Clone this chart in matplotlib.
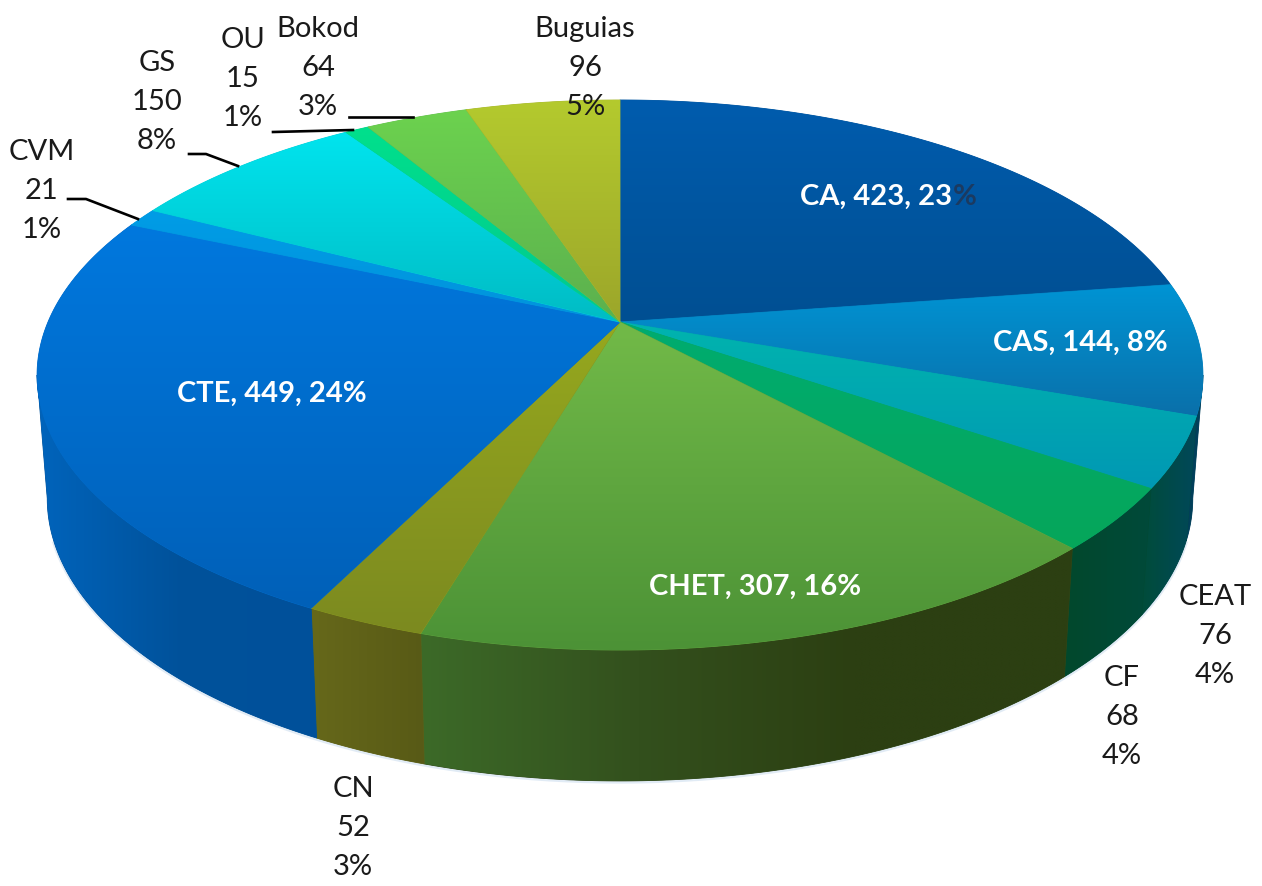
import numpy as np
import matplotlib
matplotlib.use('Agg')
import matplotlib.pyplot as plt
from matplotlib.colors import LinearSegmentedColormap
from matplotlib.patches import Polygon

plt.rcParams['font.family'] = ['Lato', 'DejaVu Sans']

names = ['CA', 'CAS', 'CEAT', 'CF', 'CHET', 'CN', 'CTE', 'CVM', 'GS', 'OU', 'Bokod', 'Buguias']
values = [423, 144, 76, 68, 307, 52, 449, 21, 150, 15, 64, 96]

# top face colours, upper edge to lower edge of the slice
top_colors = [('#005cae', '#004f92'), ('#0094d4', '#0a70aa'), ('#00b4ae', '#0098b4'),
              ('#00ac70', '#06a65a'), ('#72ba48', '#4c9236'), ('#96a81e', '#7c8a20'),
              ('#0078de', '#0060b8'), ('#009ce6', '#0094dc'), ('#00e4ee', '#00bcc4'),
              ('#00e08c', '#00c890'), ('#6cd24e', '#5cb04e'), ('#b4ca2e', '#9ca62a')]
# wall colours, left to right
wall_colors = [('#003f70', '#003f70'), ('#013f58', '#01405e'), ('#004c3a', '#01485a'),
               ('#02482c', '#004a3a'), ('#3c6a28', '#33501d', '#2c3f12', '#2c3f12'), ('#66681a', '#585a16'),
               ('#0064bc', '#00529b', '#00509a'), ('#00509a', '#00509a'), ('#00509a', '#00509a'),
               ('#00509a', '#00509a'), ('#00509a', '#00509a'), ('#00509a', '#00509a')]

inside_labels = {'CA': (800, 197), 'CAS': (1080, 343), 'CHET': (755, 587), 'CTE': (272, 394)}
outside_labels = {'CEAT': (1215, 636), 'CF': (1122, 717), 'CN': (353, 828), 'CVM': (42, 191),
                  'GS': (157, 102), 'OU': (243, 79), 'Bokod': (318, 68), 'Buguias': (585, 68)}
leaders = [[(68, 199), (86, 199), (138, 219)],
           [(189, 154), (206, 154), (238, 166)],
           [(273, 132), (353, 130)],
           [(349, 117), (413, 117)]]

CX = 620
TOP_Y = 322
BOTTOM_Y = 444
K = 0.1927


def project(t, cy, a, b):
    # t is clockwise from twelve o'clock, perspective squeeze with K
    u, v = np.sin(t), np.cos(t)
    den = 1 + K * v
    return CX + b * u / den, cy - a * v / den


def top_edge(t):
    return project(t, TOP_Y, 264.8, 572)


def bottom_edge(t):
    return project(t, BOTTOM_Y, 272, 562)


def gradient_fill(ax, xs, ys, colors, vertical=True, zorder=2):
    # solid patch under the image keeps the edge smooth
    mid = LinearSegmentedColormap.from_list('m', colors)(0.5)
    pts = np.column_stack([xs, ys])
    ax.add_patch(Polygon(pts, closed=True, facecolor=mid, edgecolor=mid, lw=0.6, zorder=zorder))
    cmap = LinearSegmentedColormap.from_list('g', colors)
    ramp = np.linspace(0, 1, 256)
    grad = ramp[:, None] if vertical else ramp[None, :]
    im = ax.imshow(grad, cmap=cmap, vmin=0, vmax=1, aspect='auto', origin='upper', zorder=zorder + 0.1,
                   extent=[xs.min(), xs.max(), ys.max(), ys.min()], interpolation='bilinear')
    clip = Polygon(pts, closed=True, transform=ax.transData)
    im.set_clip_path(clip)


fig = plt.figure(figsize=(12.62, 8.86), dpi=100)
ax = fig.add_axes([0, 0, 1, 1])

total = sum(values)
edges = 2 * np.pi * np.cumsum([0] + values) / total
wall_start = np.arccos(-K)
wall_end = 2 * np.pi - wall_start

# soft halo under the wall
halo_t = np.linspace(wall_start + 0.15, wall_end - 0.15, 300)
hx, hy = bottom_edge(halo_t)
ax.plot(hx, hy + 1, color='#c4d8ec', lw=2.5, alpha=0.5, zorder=1)

for i in range(len(values)):
    t0, t1 = max(edges[i], wall_start), min(edges[i + 1], wall_end)
    if t1 <= t0:
        continue
    t = np.linspace(t0, t1, 120)
    tx, ty = top_edge(t)
    bx, by = bottom_edge(t)
    gradient_fill(ax, np.r_[tx, bx[::-1]], np.r_[ty, by[::-1]], wall_colors[i], vertical=False, zorder=2 + i * 0.2)

for i in range(len(values)):
    t = np.linspace(edges[i], edges[i + 1], 200)
    x, y = top_edge(t)
    gradient_fill(ax, np.r_[CX, x], np.r_[TOP_Y, y], top_colors[i], zorder=6 + i * 0.2)

for path in leaders:
    ax.plot([p[0] for p in path], [p[1] for p in path], color='black', lw=1.9, zorder=9,
            solid_joinstyle='round')

ax.set_xlim(0, 1262)
ax.set_ylim(886, 0)
ax.axis('off')

for name, value in zip(names, values):
    pct = round(100 * value / total)
    if name in inside_labels:
        x, y = inside_labels[name]
        if name == 'CA':
            # the percent sign sits dark on the slice in the original
            txt = ax.text(x, y, f'{name}, {value}, {pct}', color='white', fontsize=21, fontweight='bold',
                          ha='left', va='center', zorder=10)
            fig.canvas.draw()
            x1 = txt.get_window_extent().x1
            ax.text(x1 + 1, y, '%', color='#1b3a60', fontsize=21, fontweight='bold', ha='left',
                    va='center', zorder=10)
        else:
            ax.text(x, y, f'{name}, {value}, {pct}%', color='white', fontsize=21, fontweight='bold',
                    ha='center', va='center', zorder=10)
    else:
        x, y = outside_labels[name]
        ax.text(x, y, f'{name}\n{value}\n{pct}%', color='#1a1a1a', fontsize=21, ha='center',
                va='center', linespacing=1.6, zorder=10)

fig.savefig('out.png', dpi=100, facecolor='white')
plt.close(fig)
